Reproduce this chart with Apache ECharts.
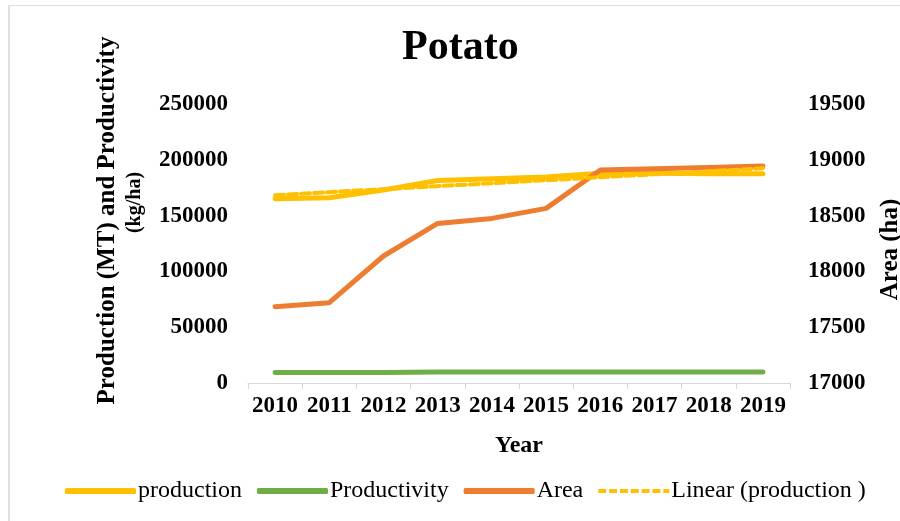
<!DOCTYPE html>
<html>
<head>
<meta charset="utf-8">
<script src="https://cdn.jsdelivr.net/npm/echarts@6/dist/echarts.min.js"></script>
<style>
  html, body { margin: 0; padding: 0; background: #fff; }
  #frame { position: absolute; left: 8px; top: 5px; width: 1000px; height: 1000px;
           border-left: 2px solid #dde0e6; border-top: 1px solid #dde0e6; box-sizing: border-box; }
  #chart { position: absolute; left: 0; top: 0; width: 900px; height: 521px; }
</style>
</head>
<body>
<div id="frame"></div>
<div id="chart"></div>
<script>
const years = ['2010','2011','2012','2013','2014','2015','2016','2017','2018','2019'];
const production = [165000, 166000, 173000, 181500, 183000, 184500, 188000, 188000, 187500, 187500];
const productivity = [9300, 9400, 9500, 9800, 9900, 9900, 9900, 9900, 9900, 9900];
const area = [17684, 17720, 18138, 18430, 18475, 18565, 18908, 18920, 18932, 18944];
const linearProduction = [168300, 171000, 173700, 176400, 179000, 181700, 184400, 187000, 189700, 192400];
const leftTicks = { min: 0, max: 250000, interval: 50000 };
const rightTicks = { min: 17000, max: 19500, interval: 500 };

const FONT = '"Liberation Serif", "Times New Roman", serif';
const LBL = 23;
const dashIcon = 'path://M0,0h8v4h-8z M11,0h8v4h-8z M22,0h8v4h-8z M33,0h8v4h-8z M44,0h8v4h-8z M55,0h8v4h-8z M66,0h6v4h-6z';
const chart = echarts.init(document.getElementById('chart'));
chart.setOption({
  backgroundColor: 'transparent',
  animation: false,
  title: {
    text: 'Potato', left: 397, top: 22,
    textStyle: { fontFamily: FONT, fontSize: 42, fontWeight: 'bold', color: '#000' }
  },
  legend: {
    left: 60, top: 474, itemWidth: 71, itemHeight: 6, itemGap: 15,
    textStyle: { fontFamily: FONT, fontSize: 24, color: '#000', padding: [0, 0, 0, -3] },
    data: [
      { name: 'production', icon: 'roundRect' },
      { name: 'Productivity', icon: 'roundRect' },
      { name: 'Area', icon: 'roundRect' },
      { name: 'Linear (production )', icon: dashIcon }
    ]
  },
  grid: { left: 248, right: 110, top: 104, bottom: 138, outerBoundsMode: 'none', containLabel: false },
  xAxis: {
    type: 'category', data: years, boundaryGap: true,
    name: 'Year', nameLocation: 'middle', nameGap: 51,
    nameTextStyle: { fontFamily: FONT, fontSize: 24, fontWeight: 'bold', color: '#000' },
    axisLine: { lineStyle: { color: '#d9d9d9', width: 1 } },
    axisTick: { show: true, length: 6, lineStyle: { color: '#d9d9d9' } },
    axisLabel: { interval: 0, fontFamily: FONT, fontSize: LBL, fontWeight: 'bold', color: '#000', margin: 12 }
  },
  yAxis: [
    {
      type: 'value', position: 'left', min: leftTicks.min, max: leftTicks.max, interval: leftTicks.interval,
      name: '{a|Production (MT) and Productivity}\n{b|(kg/ha)}', nameLocation: 'middle', nameGap: 100,
      nameTextStyle: {
        fontFamily: FONT, fontWeight: 'bold', color: '#000', padding: [0, 0, 0, 46],
        rich: {
          a: { fontFamily: FONT, fontSize: 25, fontWeight: 'bold', color: '#000', lineHeight: 27 },
          b: { fontFamily: FONT, fontSize: 20, fontWeight: 'bold', color: '#000', lineHeight: 27, padding: [0, 0, 0, 36] }
        }
      },
      axisLine: { show: false }, axisTick: { show: false }, splitLine: { show: false },
      axisLabel: { fontFamily: FONT, fontSize: LBL, fontWeight: 'bold', color: '#000', margin: 20, formatter: v => String(v) }
    },
    {
      type: 'value', position: 'right', min: rightTicks.min, max: rightTicks.max, interval: rightTicks.interval,
      name: 'Area (ha)', nameLocation: 'middle', nameGap: 88, nameRotate: 90,
      nameTextStyle: { fontFamily: FONT, fontSize: 25, fontWeight: 'bold', color: '#000', padding: [0, 12, 0, 0] },
      axisLine: { show: false }, axisTick: { show: false }, splitLine: { show: false },
      axisLabel: { fontFamily: FONT, fontSize: LBL, fontWeight: 'bold', color: '#000', margin: 18, formatter: v => String(v) }
    }
  ],
  series: [
    { name: 'production', type: 'line', data: production, yAxisIndex: 0, symbol: 'none',
      color: '#FFC000', lineStyle: { color: '#FFC000', width: 5, cap: 'round' } },
    { name: 'Productivity', type: 'line', data: productivity, yAxisIndex: 0, symbol: 'none',
      color: '#70AD47', lineStyle: { color: '#70AD47', width: 5, cap: 'round' } },
    { name: 'Area', type: 'line', data: area, yAxisIndex: 1, symbol: 'none',
      color: '#ED7D31', lineStyle: { color: '#ED7D31', width: 5, cap: 'round' } },
    { name: 'Linear (production )', type: 'line', data: linearProduction, yAxisIndex: 0, symbol: 'none',
      color: '#FFC000', lineStyle: { color: '#FFC000', width: 4, type: [9, 4], cap: 'round' } }
  ]
});
</script>
</body>
</html>
